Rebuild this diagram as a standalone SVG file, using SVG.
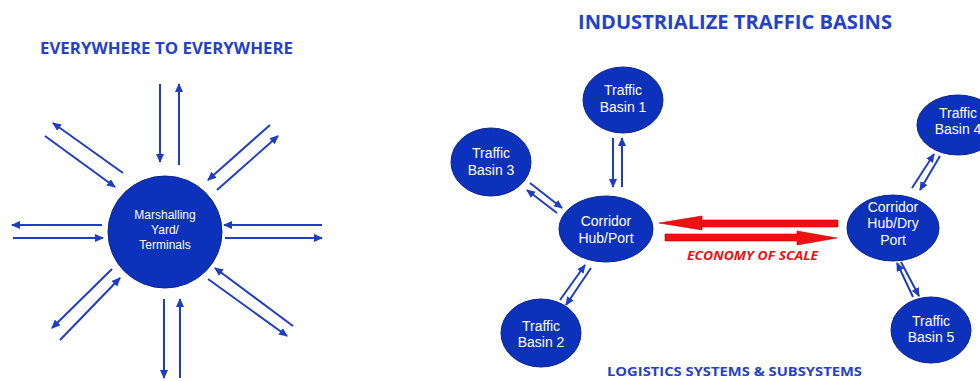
<svg xmlns="http://www.w3.org/2000/svg" width="980" height="381" viewBox="0 0 980 381">
<defs>
<marker id="ah" markerUnits="userSpaceOnUse" markerWidth="10" markerHeight="8" refX="8" refY="4" orient="auto">
<path d="M0,0 L9,4 L0,8 z" fill="#1f3cc4"/>
</marker>
</defs>
<style>
.title{font-family:"Open Sans","Liberation Sans",sans-serif;font-weight:700;fill:#2541c6}
.node{fill:#0c31bb;stroke:#0a2490;stroke-width:1}
.nt{font-family:"Liberation Sans",Arial,sans-serif;fill:#ffffff;text-anchor:middle;font-size:14px}
.ar{stroke:#1f3cc4;stroke-width:2;fill:none;marker-end:url(#ah)}
</style>
<rect width="980" height="381" fill="#ffffff"/>
<text class="title" x="40" y="54" font-size="16.5" textLength="253" lengthAdjust="spacingAndGlyphs">EVERYWHERE TO EVERYWHERE</text>
<text class="title" x="578" y="29" font-size="19" textLength="314" lengthAdjust="spacingAndGlyphs">INDUSTRIALIZE TRAFFIC BASINS</text>
<text class="title" x="607" y="376" font-size="12.5" textLength="255" lengthAdjust="spacingAndGlyphs">LOGISTICS SYSTEMS &amp; SUBSYSTEMS</text>

<g id="connectors">
<line class="ar" x1="160" y1="84" x2="160" y2="162"/>
<line class="ar" x1="179" y1="165" x2="179" y2="84"/>
<line class="ar" x1="270" y1="125" x2="208" y2="180"/>
<line class="ar" x1="217" y1="190" x2="278" y2="136"/>
<line class="ar" x1="123" y1="173" x2="53" y2="123"/>
<line class="ar" x1="45" y1="136" x2="115" y2="187"/>
<line class="ar" x1="102" y1="225" x2="12" y2="225"/>
<line class="ar" x1="13" y1="238" x2="103" y2="238"/>
<line class="ar" x1="322" y1="225" x2="224" y2="225"/>
<line class="ar" x1="225" y1="238" x2="322" y2="238"/>
<line class="ar" x1="112" y1="269" x2="52" y2="328"/>
<line class="ar" x1="60" y1="340" x2="120" y2="278"/>
<line class="ar" x1="164" y1="299" x2="164" y2="378"/>
<line class="ar" x1="180" y1="378" x2="180" y2="299"/>
<line class="ar" x1="293" y1="326" x2="215" y2="268"/>
<line class="ar" x1="208" y1="279" x2="287" y2="336"/>
<line class="ar" x1="613" y1="138" x2="613" y2="187"/>
<line class="ar" x1="622" y1="187" x2="622" y2="138"/>
<line class="ar" x1="530" y1="183" x2="562" y2="208"/>
<line class="ar" x1="557" y1="213" x2="527" y2="190"/>
<line class="ar" x1="560" y1="300" x2="585" y2="265"/>
<line class="ar" x1="591" y1="268" x2="566" y2="305"/>
<line class="ar" x1="912" y1="188" x2="934" y2="154"/>
<line class="ar" x1="940" y1="156" x2="920" y2="190"/>
<line class="ar" x1="913" y1="297" x2="897" y2="263"/>
<line class="ar" x1="901" y1="262" x2="919" y2="296"/>
<polygon points="659,223 702,216 702,220 838,220 838,227 702,227 702,230" fill="#ee1111" stroke="#c40000" stroke-width="0.6"/>
<polygon points="665,234 797,234 797,231 837,238 797,245 797,241 665,241" fill="#ee1111" stroke="#c40000" stroke-width="0.6"/>
<text x="687" y="260" font-family="Open Sans, Liberation Sans, sans-serif" font-weight="700" font-style="italic" font-size="12" fill="#ee1111" textLength="131" lengthAdjust="spacingAndGlyphs">ECONOMY OF SCALE</text>
</g>

<g id="marshalling">
<ellipse class="node" cx="165" cy="232" rx="57" ry="56"/>
<text class="nt" x="165" y="219" style="font-size:12px">Marshalling</text>
<text class="nt" x="165" y="234" style="font-size:12px">Yard/</text>
<text class="nt" x="165" y="249" style="font-size:12px">Terminals</text>
</g>
<g id="basin1">
<ellipse class="node" cx="623" cy="100" rx="40" ry="33"/>
<text class="nt" x="623" y="95">Traffic</text>
<text class="nt" x="623" y="112">Basin 1</text>
</g>
<g id="basin3">
<ellipse class="node" cx="491" cy="162" rx="40" ry="34"/>
<text class="nt" x="491" y="158">Traffic</text>
<text class="nt" x="491" y="175">Basin 3</text>
</g>
<g id="hub">
<ellipse class="node" cx="606" cy="229" rx="47" ry="33"/>
<text class="nt" x="606" y="226">Corridor</text>
<text class="nt" x="606" y="243">Hub/Port</text>
</g>
<g id="basin2">
<ellipse class="node" cx="541" cy="333" rx="40" ry="34"/>
<text class="nt" x="541" y="331">Traffic</text>
<text class="nt" x="541" y="347">Basin 2</text>
</g>
<g id="dryport">
<ellipse class="node" cx="893" cy="228" rx="46" ry="33"/>
<text class="nt" x="893" y="212">Corridor</text>
<text class="nt" x="893" y="228">Hub/Dry</text>
<text class="nt" x="893" y="245">Port</text>
</g>
<g id="basin4">
<ellipse class="node" cx="958" cy="125" rx="41" ry="30"/>
<text class="nt" x="958" y="118">Traffic</text>
<text class="nt" x="958" y="134">Basin 4</text>
</g>
<g id="basin5">
<ellipse class="node" cx="931" cy="330" rx="40" ry="33"/>
<text class="nt" x="931" y="326">Traffic</text>
<text class="nt" x="931" y="342">Basin 5</text>
</g>
</svg>
